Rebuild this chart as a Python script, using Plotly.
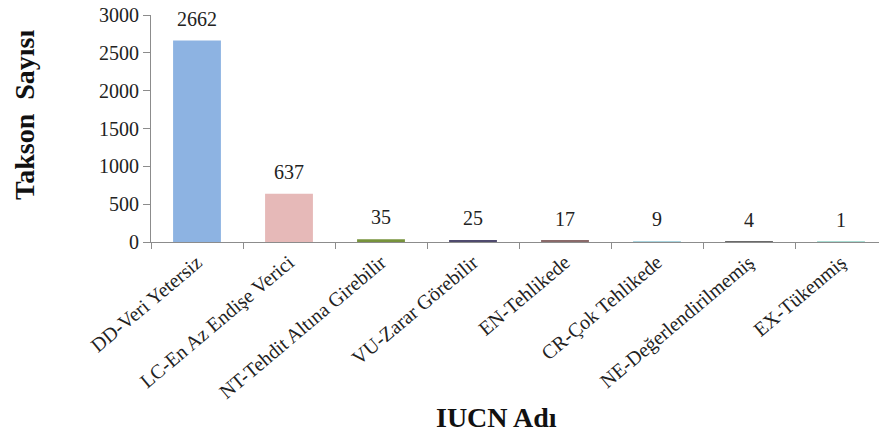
import plotly.graph_objects as go

categories = [
    "DD-Veri Yetersiz",
    "LC-En Az Endişe Verici",
    "NT-Tehdit Altına Girebilir",
    "VU-Zarar Görebilir",
    "EN-Tehlikede",
    "CR-Çok Tehlikede",
    "NE-Değerlendirilmemiş",
    "EX-Tükenmiş",
]
counts = [2662, 637, 35, 25, 17, 9, 4, 1]
bar_colors = ["#8DB3E2", "#E6B9B8", "#77933C", "#4F4A6E",
              "#8A6A6A", "#A9D4DF", "#6A6A6A", "#A8DCD2"]
y_ticks = [0, 500, 1000, 1500, 2000, 2500, 3000]

FONT = "Liberation Serif"
AXIS_COLOR = "#8C8C8C"
TEXT_COLOR = "#222222"

fig = go.Figure(
    go.Bar(
        x=categories,
        y=counts,
        marker=dict(color=bar_colors, line=dict(width=0)),
        width=0.52,
        hoverinfo="x+y",
    )
)

# value labels above each bar
for cat, val in zip(categories, counts):
    fig.add_annotation(
        x=cat, y=val, text=str(val), showarrow=False,
        xref="x", yref="y", yanchor="middle", yshift=22,
        font=dict(family=FONT, size=20, color=TEXT_COLOR),
    )

# axis titles
fig.add_annotation(
    text="<b>IUCN Adı</b>", showarrow=False,
    xref="paper", yref="paper", x=0.474, y=-0.775,
    xanchor="center", yanchor="middle",
    font=dict(family=FONT, size=28, color="#111111"),
)
fig.add_annotation(
    text="<b>Takson  Sayısı</b>", showarrow=False, textangle=-90,
    xref="paper", yref="paper", x=-0.173, y=0.56,
    xanchor="center", yanchor="middle",
    font=dict(family=FONT, size=28, color="#111111"),
)

fig.update_layout(
    width=879, height=445,
    margin=dict(l=151, r=0, t=15, b=203),
    paper_bgcolor="white", plot_bgcolor="white",
    showlegend=False,
    font=dict(family=FONT, size=20, color=TEXT_COLOR),
)
# the last category runs slightly past the right edge of the page
fig.update_xaxes(
    type="category",
    range=[-0.5, 7.413],
    tickangle=-40,
    tickson="boundaries",
    ticks="outside", ticklen=6, tickcolor=AXIS_COLOR,
    showline=True, linecolor=AXIS_COLOR, linewidth=1,
    showgrid=False,
    tickfont=dict(family=FONT, size=20, color=TEXT_COLOR),
)
fig.update_yaxes(
    range=[0, 3000],
    tickvals=y_ticks,
    ticks="outside", ticklen=7, tickcolor=AXIS_COLOR,
    showline=True, linecolor=AXIS_COLOR, linewidth=1,
    showgrid=False, zeroline=False,
    tickfont=dict(family=FONT, size=20, color=TEXT_COLOR),
)

fig.write_html("out.html")
